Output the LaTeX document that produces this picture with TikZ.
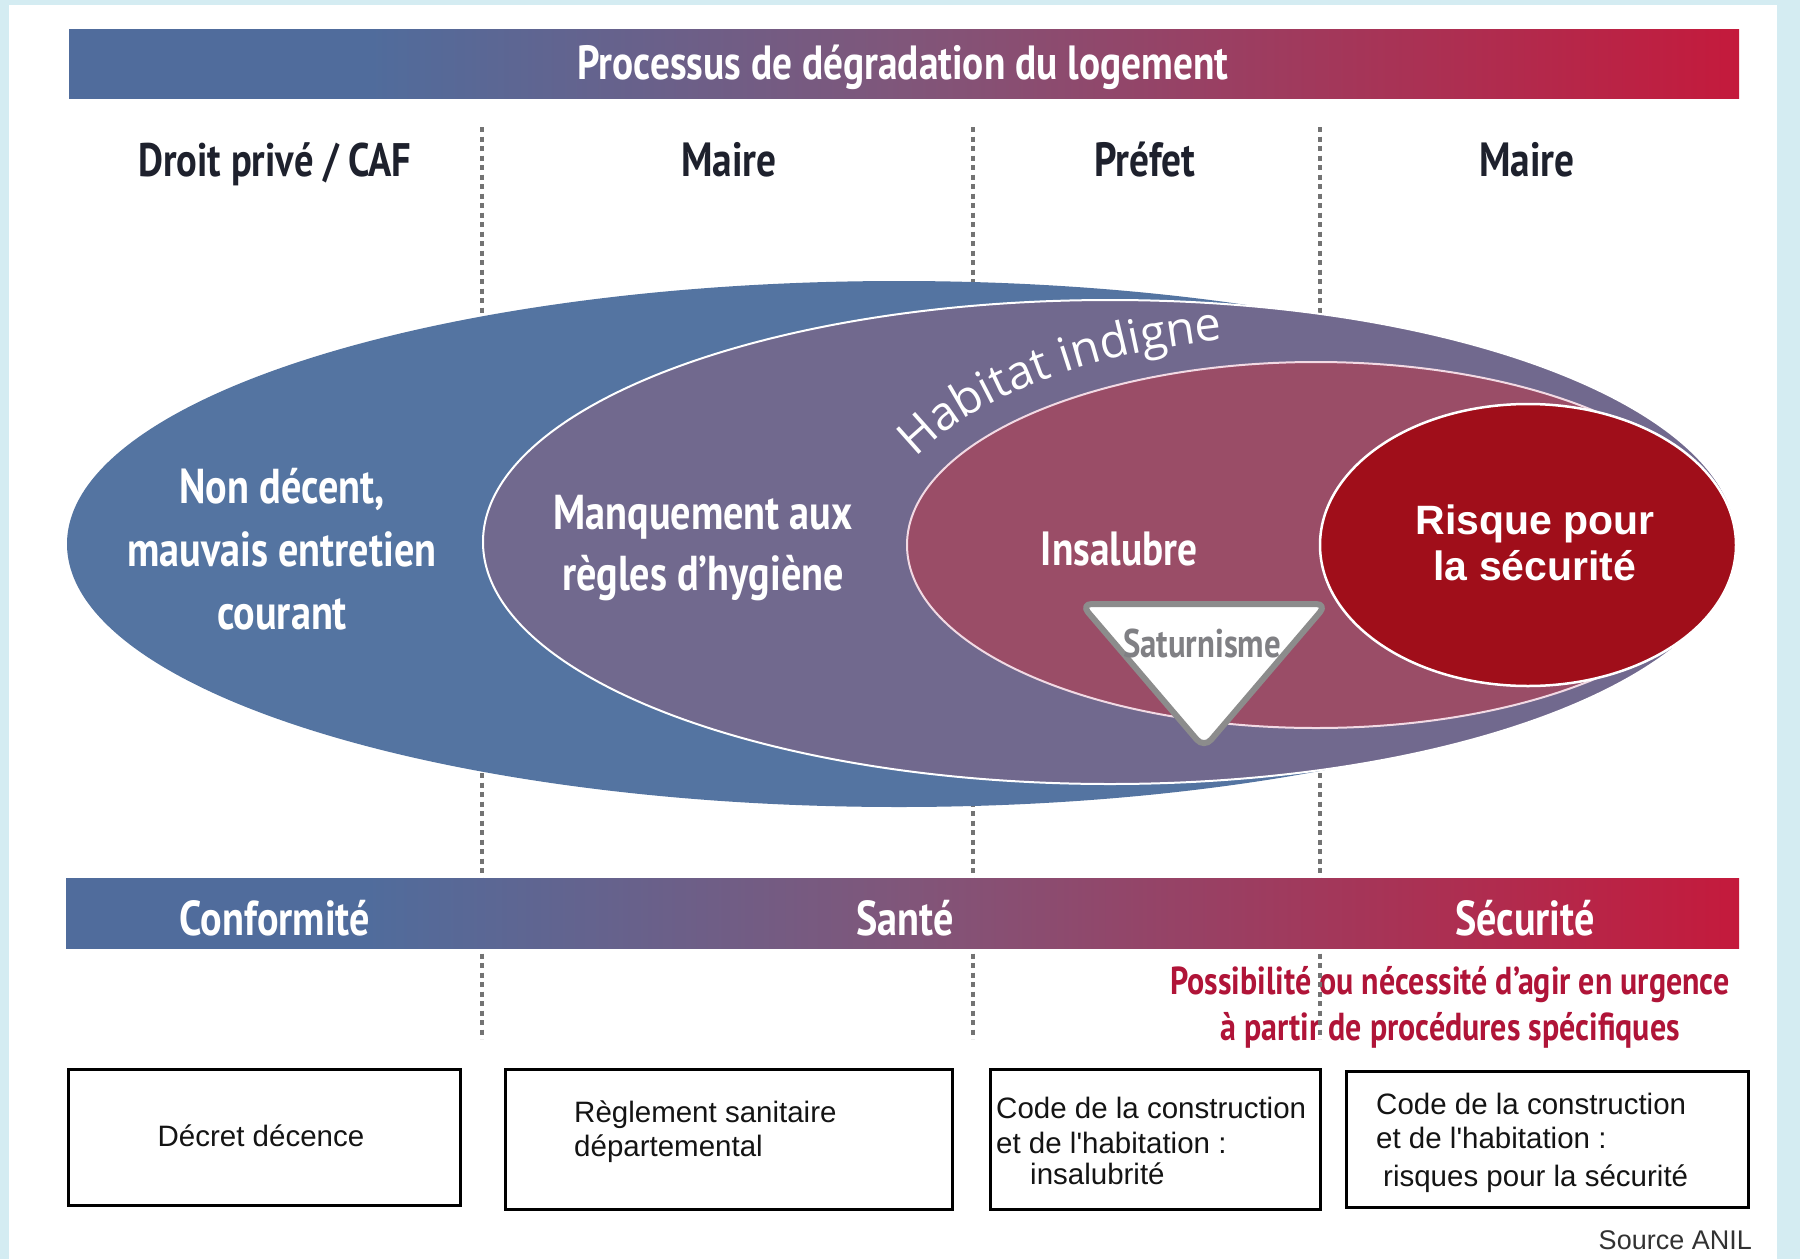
\documentclass[tikz,border=0pt]{standalone}
\usepackage{fontspec}
\setmainfont{Liberation Sans}
\newfontfamily\condfont[FakeStretch=0.82]{PT Sans}
\newfontfamily\arcfont{Open Sans}
\usetikzlibrary{decorations.text}

% palette
\definecolor{pageBg}{RGB}{212,236,242}
\definecolor{barBlue}{RGB}{80,108,156}
\definecolor{barMid}{RGB}{128,86,122}
\definecolor{barRed}{RGB}{196,26,60}
\definecolor{ellBlue}{RGB}{84,116,161}
\definecolor{ellPurple}{RGB}{113,105,142}
\definecolor{ellMauve}{RGB}{154,77,103}
\definecolor{ellRed}{RGB}{160,14,26}
\definecolor{headInk}{RGB}{30,33,45}
\definecolor{urgentRed}{RGB}{176,20,56}
\definecolor{satGray}{RGB}{128,128,132}
\definecolor{dashGray}{RGB}{115,115,115}
\definecolor{boxInk}{RGB}{20,20,20}

% blue -> purple -> crimson band
\pgfdeclarehorizontalshading{barshade}{100bp}{color(0bp)=(barBlue); color(25bp)=(barBlue); color(34bp)=(barBlue); color(50bp)=(barMid); color(75bp)=(barRed); color(100bp)=(barRed)}

\tikzset{
  band/.style={shading=barshade, draw=none, inner sep=0pt, anchor=north west},
  % multi-line nodes sit on the baseline of their last line
  condtext/.style 2 args={font={\condfont\bfseries\fontsize{#1}{#2}\selectfont}, inner sep=0pt, anchor=base, align=center},
  boxtext/.style={font={\fontsize{29.5}{34}\selectfont}, text=boxInk, inner sep=0pt, anchor=base west, align=left},
  lawbox/.style={draw=black, line width=2.5pt, fill=white, inner sep=0pt, anchor=north west},
  divider/.style={draw=dashGray, line width=3.5pt, dash pattern=on 5pt off 4.5pt},
}

\begin{document}
\begin{tikzpicture}[x=1pt,y=-1pt]
\useasboundingbox (0,0) rectangle (1800,1259);
\fill[pageBg] (0,0) rectangle (1800,1259);
\fill[white] (9,5) rectangle (1777,1259);

% ---------- top band ----------
\node[band, minimum width=1670pt, minimum height=69pt] (topbar) at (69,29) {};
\node[condtext={48}{48}, text=white] (title) at (903,79) {Processus de dégradation du logement};

% ---------- authorities ----------
\node[condtext={47}{47}, text=headInk] (hdDroit)  at (275,176)  {Droit privé / CAF};
\node[condtext={48}{48}, text=headInk] (hdMaireA) at (729,176)  {Maire};
\node[condtext={48}{48}, text=headInk] (hdPrefet) at (1145,176) {Préfet};
\node[condtext={48}{48}, text=headInk] (hdMaireB) at (1527,176) {Maire};

% ---------- urgency note ----------
\node[condtext={39}{46}, text=urgentRed] (urgence) at (1450,1040)
  {Possibilité ou nécessité d’agir en urgence\\à partir de procédures spécifiques};

% ---------- column dividers ----------
\coordinate (divAtop) at (482,127);  \coordinate (divAbot) at (482,1039);
\coordinate (divBtop) at (973,127);  \coordinate (divBbot) at (973,1039);
\coordinate (divCtop) at (1320,127); \coordinate (divCbot) at (1320,1039);
\draw[divider] (divAtop) -- (divAbot);
\draw[divider] (divBtop) -- (divBbot);
\draw[divider] (divCtop) -- (divCbot);

% ---------- nested zones ----------
\fill[ellBlue] (899,544) ellipse [x radius=832pt, y radius=263pt];
\filldraw[fill=ellPurple, draw=white, line width=2pt] (1110,542) ellipse [x radius=627pt, y radius=242pt];
\filldraw[fill=ellMauve, draw={rgb,255:red,242;green,218;blue,228}, line width=2pt] (1316,545) ellipse [x radius=409pt, y radius=183pt];
\filldraw[fill=ellRed, draw=white, line width=2.5pt] (1528,545) ellipse [x radius=208pt, y radius=141pt];

% curved label of the purple zone
\path[decorate, decoration={text along path,
    text={|\color{white}\arcfont\fontsize{47}{47}\selectfont|Habitat indigne}}]
  ([shift={(155.5:440pt and 210pt)}]1316,545) arc [start angle=155.5, end angle=60, x radius=440pt, y radius=210pt];

% lead poisoning marker
\coordinate (satL) at (1081,604);
\coordinate (satR) at (1327,604);
\coordinate (satB) at (1204,748);
\filldraw[fill=white, draw={rgb,255:red,140;green,140;blue,140}, line width=6pt, rounded corners=11pt, line join=round]
  (satL) -- (satR) -- (satB) -- cycle;
\node[condtext={40}{40}, text=satGray] (txSat) at (1202,657) {Saturnisme};

% zone labels
\node[condtext={49}{63}, text=white] (txNonDecent) at (282,629) {Non décent,\\mauvais entretien\\courant};
\node[condtext={49}{61}, text=white] (txHygiene) at (703,590) {Manquement aux\\règles d’hygiène};
\node[condtext={48}{48}, text=white] (txInsalubre) at (1119,565) {Insalubre};
\node[font={\bfseries\fontsize{41}{46}\selectfont}, text=white, inner sep=0pt, anchor=base, align=center] (txRisque) at (1535,580) {Risque pour\\la sécurité};

% ---------- bottom band ----------
\node[band, minimum width=1673pt, minimum height=70pt] (botbar) at (66,878) {};
\node[condtext={49}{49}, text=white] (lbConf) at (275,935) {Conformité};
\node[condtext={49}{49}, text=white] (lbSante) at (905,935) {Santé};
\node[condtext={49}{49}, text=white] (lbSecu) at (1525,935) {Sécurité};

% ---------- legal references ----------
\node[lawbox, minimum width=392pt, minimum height=136pt] (boxDecence) at (67,1068) {};
\node[lawbox, minimum width=447pt, minimum height=140pt] (boxRSD) at (504,1068) {};
\node[lawbox, minimum width=330pt, minimum height=140pt] (boxCCHa) at (989,1068) {};
\node[lawbox, minimum width=402pt, minimum height=136pt] (boxCCHb) at (1345,1070) {};

\node[boxtext, anchor=base] (tDecence) at (261,1146) {Décret décence};
\node[boxtext] (tRSD) at (574,1156) {Règlement sanitaire\\départemental};
\node[boxtext] (tCCHa1) at (996,1118) {Code de la construction};
\node[boxtext] (tCCHa2) at (996,1153) {et de l\textquotesingle habitation :};
\node[boxtext] (tCCHa3) at (1030,1184) {insalubrité};
\node[boxtext] (tCCHb1) at (1376,1114) {Code de la construction};
\node[boxtext] (tCCHb2) at (1376,1148) {et de l\textquotesingle habitation :};
\node[boxtext] (tCCHb3) at (1383,1186) {risques pour la sécurité};

\node[font={\fontsize{27}{27}\selectfont}, text={rgb,255:red,50;green,50;blue,50}, inner sep=0pt, anchor=base east] (source) at (1752,1249) {Source ANIL};
\end{tikzpicture}
\end{document}
